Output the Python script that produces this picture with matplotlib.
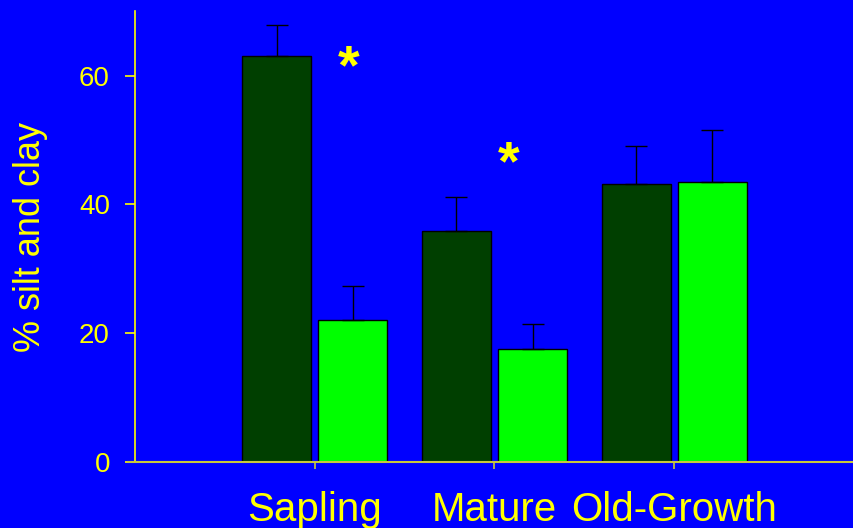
import numpy as np
import matplotlib
matplotlib.use("Agg")
import matplotlib.pyplot as plt

# stand ages and % silt and clay for the two series (dark / light)
stands = ["Sapling", "Mature", "Old-Growth"]
dark_vals = [63.0, 35.9, 43.2]
dark_err = [4.8, 5.3, 5.8]
light_vals = [22.1, 17.6, 43.5]
light_err = [5.3, 3.9, 8.0]
# significant differences marked with an asterisk (x position, y position)
star_x = [0.19, 1.08]
star_y = [61.0, 46.0]

BLUE = "#0000ff"
YELLOW = "#ffff00"
DARK = "#003f00"
LIGHT = "#00ff00"

plt.rcParams["font.family"] = ["Liberation Sans", "DejaVu Sans"]

fig = plt.figure(figsize=(8.54, 5.28), dpi=100, facecolor=BLUE)
ax = fig.add_axes([0.158, 0.125, 0.842, 0.854], facecolor=BLUE)

x = np.arange(len(stands))
w = 0.383
ax.bar(x - 0.212, dark_vals, w, color=DARK, edgecolor="black", linewidth=1,
       yerr=[np.zeros(3), dark_err], error_kw=dict(ecolor="black", capsize=8, elinewidth=1, capthick=1))
ax.bar(x + 0.212, light_vals, w, color=LIGHT, edgecolor="black", linewidth=1,
       yerr=[np.zeros(3), light_err], error_kw=dict(ecolor="black", capsize=8, elinewidth=1, capthick=1))

for sx, sy in zip(star_x, star_y):
    ax.text(sx, sy, "*", color=YELLOW, fontsize=40, fontweight="bold", ha="center", va="center")

ax.set_xlim(-1.0, 3.0)
ax.set_ylim(0, 70)
ax.set_yticks([0, 20, 40, 60])
ax.set_xticks(x)
ax.set_xticklabels(stands)

for side in ["top", "right"]:
    ax.spines[side].set_visible(False)
ax.spines["left"].set_color(YELLOW)
ax.spines["left"].set_linewidth(1.2)
ax.spines["bottom"].set_visible(False)
# x axis line runs a little past the y axis, like the original
ax.plot([-1.04, 3.0], [0, 0], color="#c8c83c", linewidth=1.5, clip_on=False, zorder=3)

ax.tick_params(axis="y", colors=YELLOW, labelsize=20, length=7, width=1.2, pad=11)
ax.tick_params(axis="x", colors="#c8c83c", labelcolor=YELLOW, labelsize=29, length=5, width=1.2, pad=16)

ax.set_ylabel("% silt and clay", color=YELLOW, fontsize=26, labelpad=22)

fig.savefig("out.png", dpi=100, facecolor=BLUE)
